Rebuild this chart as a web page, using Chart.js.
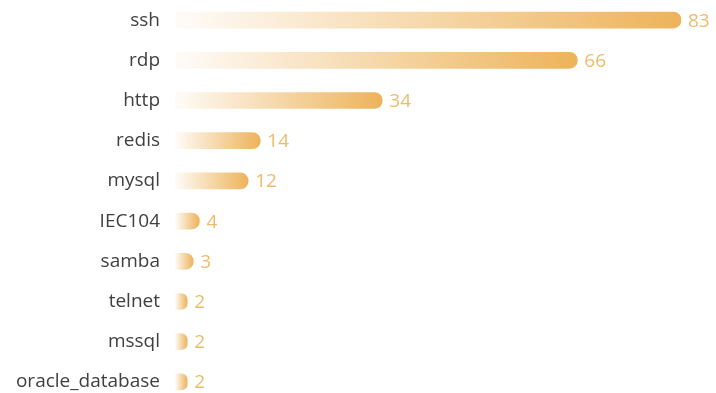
<!DOCTYPE html>
<html>
<head>
<meta charset="utf-8">
<script src="https://cdn.jsdelivr.net/npm/chart.js@4/dist/chart.umd.min.js"></script>
<style>
  html, body { margin: 0; padding: 0; background: #fff; overflow: hidden; }
  #wrap { width: 716px; height: 402px; }
  canvas { display: block; }
</style>
</head>
<body>
<div id="wrap"><canvas id="bars" width="716" height="402"></canvas></div>
<script>
// ports and hit counts
const services = ['ssh', 'rdp', 'http', 'redis', 'mysql', 'IEC104', 'samba', 'telnet', 'mssql', 'oracle_database'];
const counts = [83, 66, 34, 14, 12, 4, 3, 2, 2, 2];

const barColor = '#edb35a';

// gradient from the bar start to its own end
function barFill(c) {
    const chart = c.chart;
    if (!chart.chartArea || c.dataIndex === undefined) return barColor;
    const xs = chart.scales.x;
    const x0 = xs.getPixelForValue(0);
    const x1 = xs.getPixelForValue(counts[c.dataIndex]);
    const g = chart.ctx.createLinearGradient(x0, 0, x1, 0);
    g.addColorStop(0, 'rgba(237,179,90,0.04)');
    g.addColorStop(1, 'rgba(237,179,90,1)');
    return g;
}

const valueLabels = {
    id: 'valueLabels',
    afterDatasetsDraw(chart) {
        const ctx = chart.ctx;
        ctx.save();
        ctx.font = '19px "Open Sans"';
        ctx.fillStyle = '#eebb6c';
        ctx.textBaseline = 'middle';
        chart.getDatasetMeta(0).data.forEach((bar, i) => {
            ctx.fillText(counts[i], bar.x + 7, bar.y + 1);
        });
        ctx.restore();
    }
};

new Chart(document.getElementById('bars'), {
    type: 'bar',
    data: {
        labels: services,
        datasets: [{
            data: counts,
            backgroundColor: barFill,
            barThickness: 16,
            borderRadius: { topRight: 8, bottomRight: 8, topLeft: 0, bottomLeft: 0 },
            borderSkipped: false
        }]
    },
    options: {
        indexAxis: 'y',
        responsive: false,
        animation: false,
        layout: { padding: { top: 0, bottom: 0, left: 0, right: 35 } },
        plugins: { legend: { display: false }, tooltip: { enabled: false } },
        scales: {
            x: { display: false, min: 0, max: 83 },
            y: {
                grid: { display: false, drawTicks: false },
                border: { display: false },
                ticks: { color: '#404040', font: { family: 'Open Sans', size: 19 }, padding: 15 },
                afterFit(scale) {
                    scale.width = 175;
                    scale.paddingTop = 0;
                    scale.paddingBottom = 0;
                }
            }
        }
    },
    plugins: [valueLabels]
});
</script>
</body>
</html>
